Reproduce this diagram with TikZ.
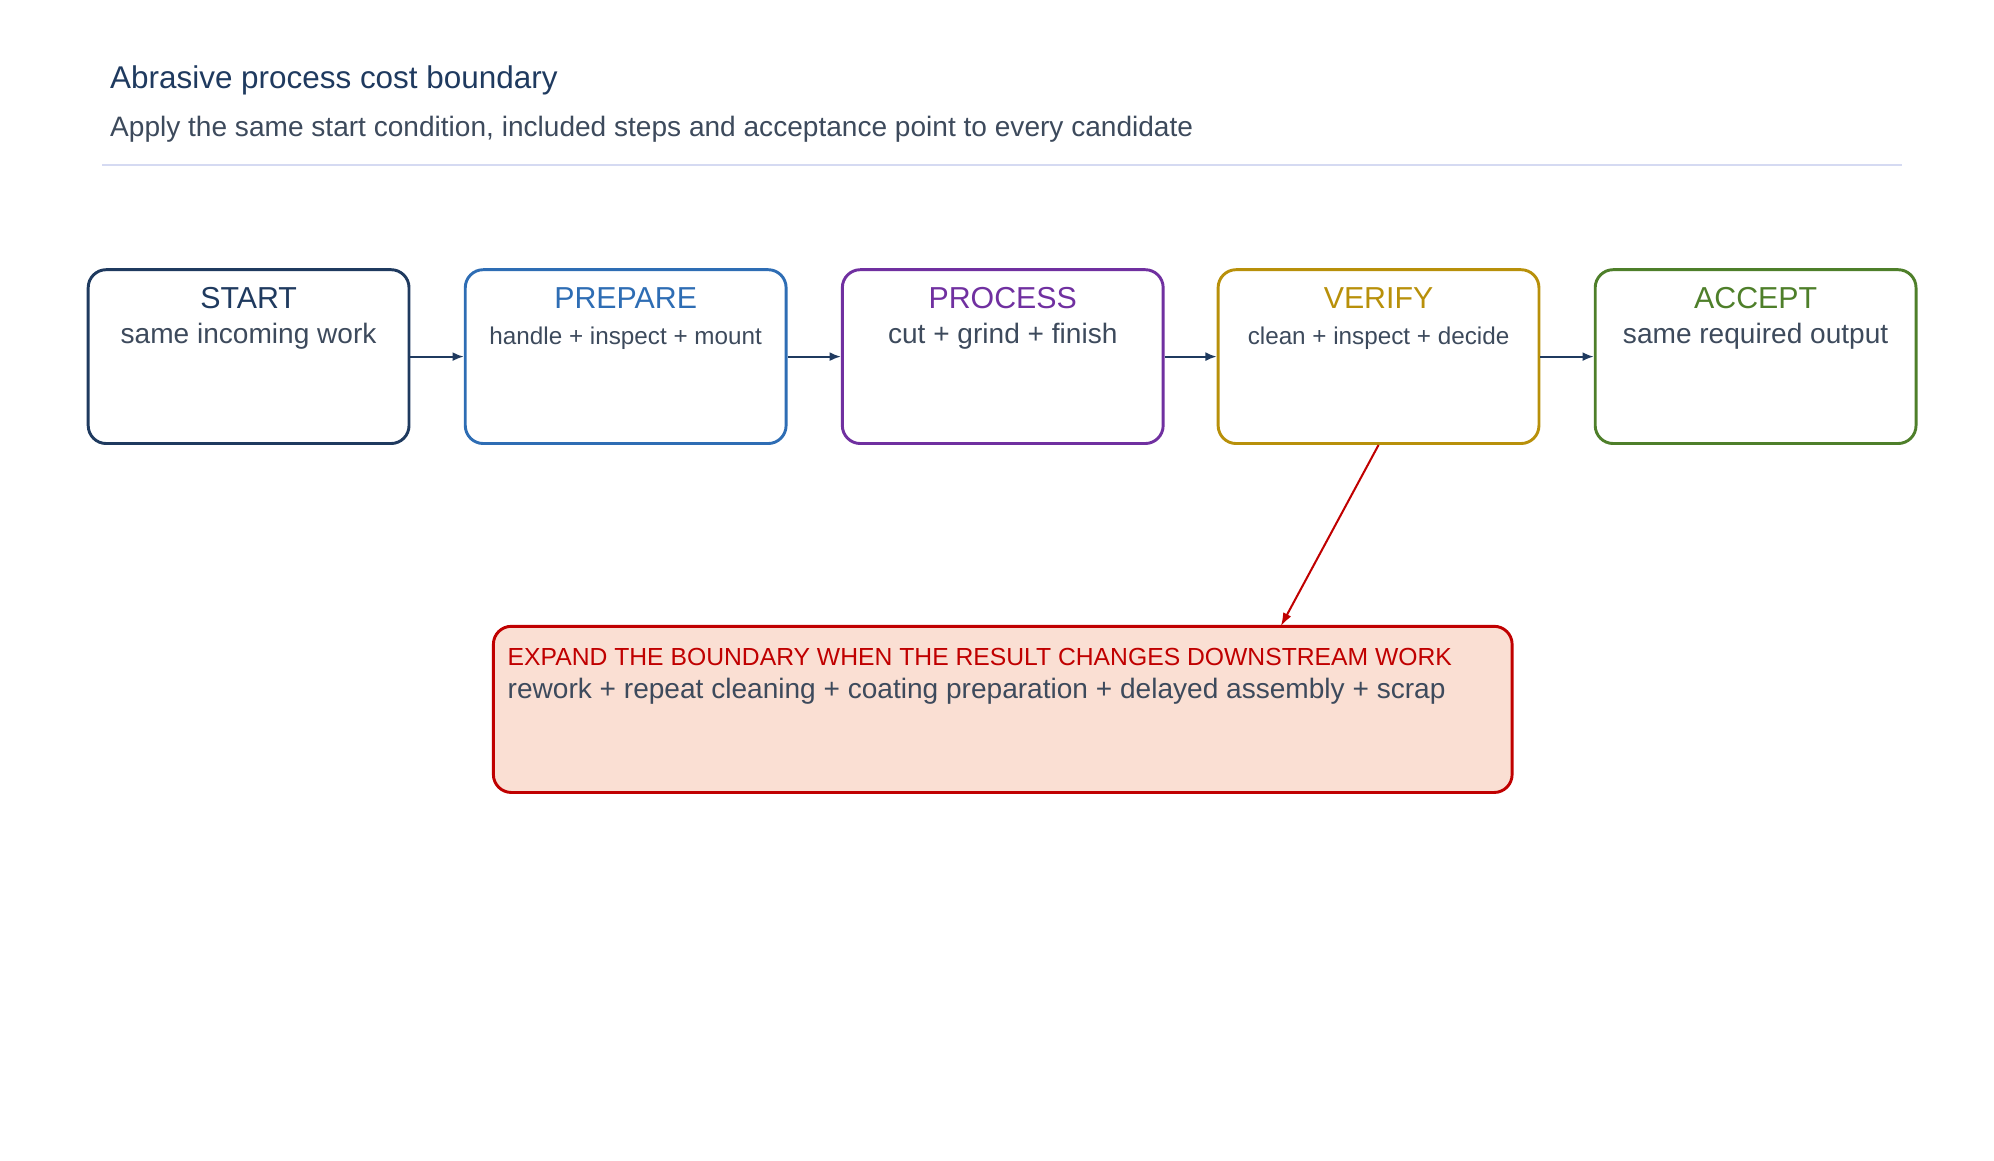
\documentclass[tikz,border=0pt]{standalone}
\usepackage{fontspec}
\setmainfont{Liberation Sans}
\usetikzlibrary{positioning,arrows.meta}
\definecolor{navy}{HTML}{1F3A5F}
\definecolor{prepc}{HTML}{2E6DB4}
\definecolor{procc}{HTML}{7030A0}
\definecolor{verc}{HTML}{B8900A}
\definecolor{accc}{HTML}{4E7F2A}
\definecolor{txtc}{HTML}{3D4A5C}
\definecolor{redc}{HTML}{C00000}
\definecolor{peach}{HTML}{FADFD3}
\definecolor{rulec}{HTML}{D5DAF2}
\tikzset{
  stage/.style={draw=#1,line width=1.3pt,rounded corners=8pt,minimum width=251*0.02cm,minimum height=136*0.02cm,inner sep=0pt},
  head/.style={text=#1,font=\fontsize{13.5}{15}\selectfont,anchor=north,yshift=-0.18cm},
  sub/.style={text=txtc,font=\fontsize{12.5}{14}\selectfont},
  flow/.style={-{Latex[length=5pt,width=4pt]},navy,line width=0.9pt}
}
\begin{document}
\begin{tikzpicture}[x=0.02cm,y=-0.02cm]
\useasboundingbox (0,0) rectangle (1560,908);
%header
\node[anchor=west,text=navy,font=\fontsize{14}{16}\selectfont](title)at(80,63){Abrasive process cost boundary};
\node[anchor=west,text=txtc,font=\fontsize{12.5}{14}\selectfont](subtitle)at(80,101){Apply the same start condition, included steps and acceptance point to every candidate};
\draw[rulec,line width=0.8pt](80,129)--(1488,129);
%stages
\node[stage=navy](start)at(194.5,279){};
\node[stage=prepc](prep)at(489.5,279){};
\node[stage=procc](proc)at(784.5,279){};
\node[stage=verc](ver)at(1078.5,279){};
\node[stage=accc](acc)at(1373.5,279){};
\node[head=navy](starth)at(start.north){START};
\node[sub,below=-1pt of starth](starts){same incoming work};
\node[head=prepc](preph)at(prep.north){PREPARE};
\node[sub,font=\fontsize{10.8}{13}\selectfont,below=1pt of preph](preps){handle + inspect + mount};
\node[head=procc](proch)at(proc.north){PROCESS};
\node[sub,below=-1pt of proch](procs){cut + grind + finish};
\node[head=verc](verh)at(ver.north){VERIFY};
\node[sub,font=\fontsize{10.8}{13}\selectfont,below=1pt of verh](vers){clean + inspect + decide};
\node[head=accc](acch)at(acc.north){ACCEPT};
\node[sub,below=-1pt of acch](accs){same required output};
\draw[flow](start)--(prep);
\draw[flow](prep)--(proc);
\draw[flow](proc)--(ver);
\draw[flow](ver)--(acc);
%boundary
\node[draw=redc,fill=peach,line width=1.3pt,rounded corners=8pt,minimum width=797*0.02cm,minimum height=130*0.02cm](expand)at(784.5,555){};
\node[anchor=west,text=redc,font=\fontsize{11}{13}\selectfont](exph)at(391,514){EXPAND THE BOUNDARY WHEN THE RESULT CHANGES DOWNSTREAM WORK};
\node[anchor=west,sub](exps)at(391,541){rework + repeat cleaning + coating preparation + delayed assembly + scrap};
\coordinate(exptop)at(1002,490);
\draw[-{Latex[length=6pt,width=4pt]},redc,line width=0.9pt](ver.south)--(exptop);
\end{tikzpicture}
\end{document}
